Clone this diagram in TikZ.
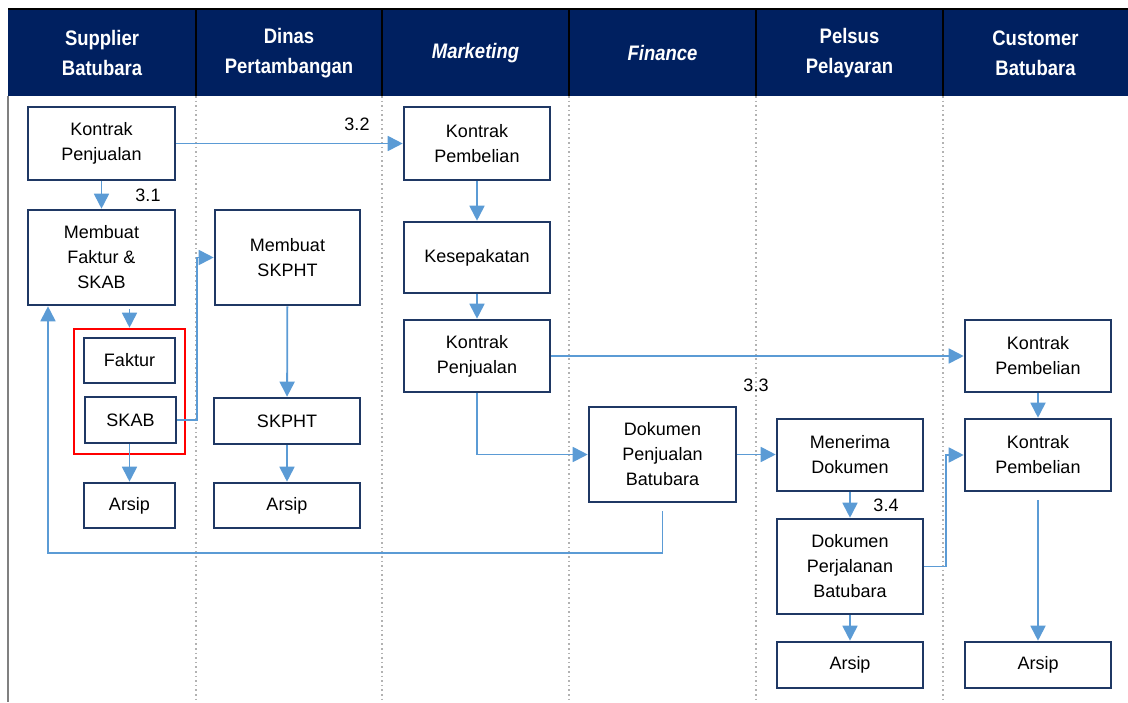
\documentclass[tikz,border=0pt]{standalone}
\usepackage{fontspec}
\setmainfont{Liberation Sans}
\newfontfamily\headfont{Liberation Sans}[FakeStretch=0.88]
\usepackage{tikz}
\usetikzlibrary{shapes,arrows.meta}
\definecolor{navy}{HTML}{002060}
\definecolor{boxline}{HTML}{1F3864}
\definecolor{flowblue}{HTML}{5B9BD5}
\tikzstyle{block} = [draw=boxline, line width=2.6pt, fill=white, rectangle,
inner sep=0pt, align=center, font=\fontsize{18}{25}\selectfont]
\tikzstyle{group} = [draw=red, line width=2.6pt, rectangle, inner sep=0pt]
\tikzstyle{flow} = [draw=flowblue, line width=1.8pt, -{Triangle[length=15pt,width=15pt]}]
\tikzstyle{lane} = [gray!60, line width=1.6pt, dash pattern=on 1.6pt off 3pt]
\tikzstyle{head} = [text=white, align=center, font=\headfont\bfseries\fontsize{21}{30}\selectfont]
\tikzstyle{num} = [font=\fontsize{18}{22}\selectfont]

\begin{document}
\begin{tikzpicture}[x=1pt, y=-1pt]

	\useasboundingbox (0,0) rectangle (1128,702);
	\fill [navy] (8,9) rectangle (1128,96);
	\draw [black, line width=1.5pt] (8,9) -- (1128,9);
	\foreach \x in {196,382,569,756,943} {
		\draw [black, line width=1.5pt] (\x,9) -- (\x,96);
		\draw [lane] (\x,96) -- (\x,702);
	}
	\draw [gray, line width=2.5pt] (8,96) -- (8,702);

	\node [head] (supplier) at (102,53) {Supplier\\Batubara};
	\node [head] (dinas) at (289,53) {Dinas\\Pertambangan};
	\node [head] (marketing) at (475.5,53) {\itshape Marketing};
	\node [head] (finance) at (662.5,53) {\itshape Finance};
	\node [head] (pelsus) at (849.5,53) {Pelsus\\Pelayaran};
	\node [head] (customer) at (1035.5,53) {Customer\\Batubara};

	\node [block, minimum width=147pt, minimum height=73pt] (kontrak jual s) at (101.5,143.5) {Kontrak\\Penjualan};
	\node [block, minimum width=147pt, minimum height=95pt] (buat faktur) at (101.5,257.5) {Membuat\\Faktur \&\\SKAB};
	\node [block, minimum width=145pt, minimum height=95pt] (buat skpht) at (287.5,257.5) {Membuat\\SKPHT};
	\node [group, minimum width=111pt, minimum height=125pt] (dokumen s) at (129.5,391.5) {};
	\node [block, minimum width=91pt, minimum height=45pt] (faktur) at (129.5,360.5) {Faktur};
	\node [block, minimum width=91pt, minimum height=46pt] (skab) at (130.5,420) {SKAB};
	\node [block, minimum width=91pt, minimum height=45pt] (arsip s) at (129.5,505.5) {Arsip};
	\node [block, minimum width=146pt, minimum height=46pt] (skpht) at (287,421) {SKPHT};
	\node [block, minimum width=146pt, minimum height=45pt] (arsip d) at (287,505.5) {Arsip};

	\node [block, minimum width=146pt, minimum height=73pt] (kontrak beli m) at (477,143.5) {Kontrak\\Pembelian};
	\node [block, minimum width=146pt, minimum height=71pt] (sepakat) at (477,257.5) {Kesepakatan};
	\node [block, minimum width=146pt, minimum height=72pt] (kontrak jual m) at (477,356) {Kontrak\\Penjualan};
	\node [block, minimum width=147pt, minimum height=95pt] (dok jual) at (662.5,454.5) {Dokumen\\Penjualan\\Batubara};
	\node [block, minimum width=146pt, minimum height=72pt] (terima) at (850,455) {Menerima\\Dokumen};
	\node [block, minimum width=146pt, minimum height=95pt] (dok jalan) at (850,566.5) {Dokumen\\Perjalanan\\Batubara};
	\node [block, minimum width=146pt, minimum height=46pt] (arsip p) at (850,665) {Arsip};
	\node [block, minimum width=146pt, minimum height=72pt] (kontrak beli c) at (1038,356) {Kontrak\\Pembelian};
	\node [block, minimum width=146pt, minimum height=72pt] (kontrak beli c2) at (1038,455) {Kontrak\\Pembelian};
	\node [block, minimum width=146pt, minimum height=46pt] (arsip c) at (1038,665) {Arsip};

	\node [num] (n31) at (148,195) {3.1};
	\node [num] (n32) at (357,124) {3.2};
	\node [num] (n33) at (756,385) {3.3};
	\node [num] (n34) at (886,505) {3.4};
	\coordinate (balik) at (48,553);

	\draw [flow] (kontrak jual s) -- (buat faktur);
	\draw [flow] (kontrak jual s.east) -- (kontrak beli m.west);
	\draw [flow] ([yshift=-3pt]buat faktur.south -| dokumen s) -- (dokumen s.north);
	\draw [flow] (skab.south -| arsip s) -- (arsip s.north);
	\draw [flow] (skab.east) -- ++(20,0) |- (buat skpht.west);
	\draw [flow] (buat skpht) -- (skpht);
	\draw [flow] (skpht) -- (arsip d);
	\draw [flow] (kontrak beli m) -- (sepakat);
	\draw [flow] (sepakat) -- (kontrak jual m);
	\draw [flow] (kontrak jual m.east) -- (kontrak beli c.west);
	\draw [flow] (kontrak jual m.south) |- (dok jual.west);
	\draw [flow] (dok jual.east) -- (dok jual.east -| terima.west);
	\draw [flow] ([yshift=-8pt]dok jual.south) |- (balik) -- (balik |- buat faktur.south);
	\draw [flow] (terima) -- (dok jalan);
	\draw [flow] (dok jalan) -- (arsip p);
	\draw [flow] (dok jalan.east) -- ++(22,0) |- (kontrak beli c2.west);
	\draw [flow] (kontrak beli c) -- (kontrak beli c2);
	\draw [flow] ([yshift=-8pt]kontrak beli c2.south) -- (arsip c.north);

\end{tikzpicture}
\end{document}
